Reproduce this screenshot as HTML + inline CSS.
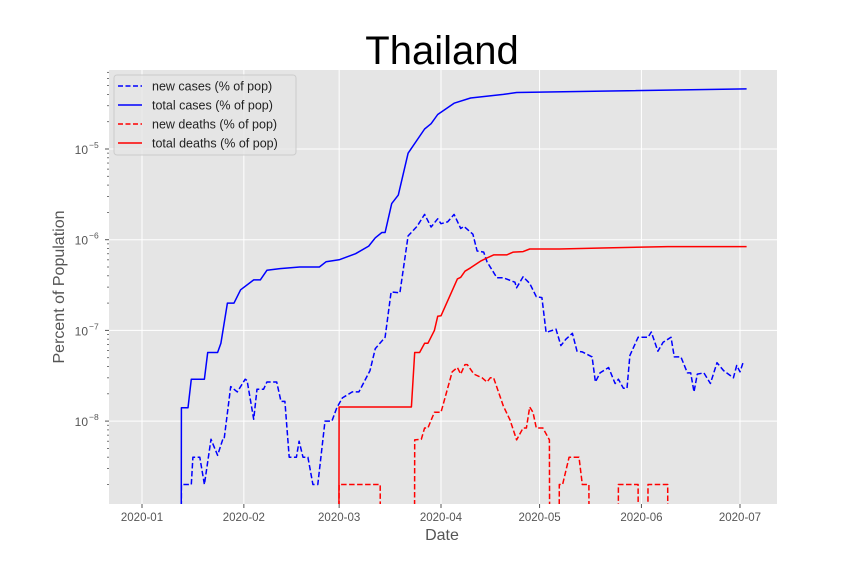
<!DOCTYPE html>
<html><head><meta charset="utf-8"><style>
body{margin:0;background:#fff;font-family:"Liberation Sans",sans-serif;}
svg text{font-family:"Liberation Sans",sans-serif;}
</style></head><body>
<svg id="chart" width="864" height="576" xmlns="http://www.w3.org/2000/svg">
<rect x="0" y="0" width="864" height="576" fill="#fff"/>
<rect x="109" y="70" width="668" height="434" fill="#e5e5e5"/>
<g id="grid"></g>
<g id="ticks"></g>
<defs><clipPath id="clip"><rect x="109" y="70" width="668" height="434"/></clipPath></defs>
<g id="series" clip-path="url(#clip)"></g>
<text x="442" y="64" font-size="40" text-anchor="middle" fill="#000">Thailand</text>
<text x="442" y="540" font-size="16" text-anchor="middle" fill="#555">Date</text>
<text x="64" y="287" font-size="16" text-anchor="middle" fill="#555" transform="rotate(-90 64 287)">Percent of Population</text>
<g>
<rect x="114" y="75" width="182" height="80" rx="3" fill="#e5e5e5" fill-opacity="0.8" stroke="#ccc" stroke-width="1"/>
<g><line x1="118" y1="86" x2="142" y2="86" stroke="#00f" stroke-width="1.5" stroke-dasharray="5,2.5"/><text x="152" y="90.5" font-size="12.5" fill="#222">new cases (% of pop)</text></g>
<g><line x1="118" y1="105" x2="142" y2="105" stroke="#00f" stroke-width="1.5"/><text x="152" y="109.5" font-size="12.5" fill="#222">total cases (% of pop)</text></g>
<g><line x1="118" y1="124" x2="142" y2="124" stroke="#f00" stroke-width="1.5" stroke-dasharray="5,2.5"/><text x="152" y="128.5" font-size="12.5" fill="#222">new deaths (% of pop)</text></g>
<g><line x1="118" y1="143" x2="142" y2="143" stroke="#f00" stroke-width="1.5"/><text x="152" y="147.5" font-size="12.5" fill="#222">total deaths (% of pop)</text></g>
</g>
</svg>
<script>
// day index: 0 = 2020-01-01
const xTickLabels = ["2020-01","2020-02","2020-03","2020-04","2020-05","2020-06","2020-07"];
const xTickDays = [0,31,60,91,121,152,182];
const yTickExps = [-8,-7,-6,-5];

const totalCasesDays = [11.9,12,14,15,19,20,23,24,26,28,30,34,36,38,42,48,54,56,60,65,69,71,73,74,76,78,81,86,88,90,95,100,110,114,140,184];
const totalCasesVals = [1e-10,1.4e-8,1.4e-8,2.9e-8,2.9e-8,5.7e-8,5.7e-8,7.2e-8,2e-7,2e-7,2.8e-7,3.6e-7,3.6e-7,4.6e-7,4.8e-7,5.0e-7,5.0e-7,5.7e-7,6.0e-7,7e-7,8.5e-7,1.05e-6,1.2e-6,1.2e-6,2.5e-6,3.1e-6,9e-6,1.66e-5,1.9e-5,2.4e-5,3.2e-5,3.65e-5,4.0e-5,4.2e-5,4.35e-5,4.6e-5];

const newCasesDays = [11.9,12,15,15.5,17.6,19,21,23,24.6,25,27,29,31.4,32,34,35,37,38,41,42.3,43.5,44.8,47,47.8,49,50.5,52,53.5,55.7,57.8,59.3,61,64,66,69.4,71,74,75.8,78.5,81,83.7,86,88,90,91,93,95,97,98,100.7,102,104,105,108,110,113.5,114,116,118,120,121.7,123,126,127.5,129,131,132.4,134,137,138,139.4,142,144,145,146.5,147.6,148.5,151,154,155,157,158.6,161,162,164,166,167,168,169,171,173,175,177,180,181,182,183];
const newCasesVals = [1e-10,2e-9,2e-9,4e-9,4e-9,2e-9,6.3e-9,4.2e-9,6.3e-9,6.3e-9,2.4e-8,2.1e-8,2.9e-8,2.8e-8,1.05e-8,2.25e-8,2.25e-8,2.7e-8,2.7e-8,1.65e-8,1.65e-8,4e-9,4e-9,6e-9,4e-9,4e-9,2e-9,2e-9,1e-8,1e-8,1.4e-8,1.8e-8,2.1e-8,2.1e-8,3.6e-8,6.3e-8,8.4e-8,2.65e-7,2.6e-7,1.1e-6,1.4e-6,1.9e-6,1.38e-6,1.7e-6,1.5e-6,1.57e-6,1.9e-6,1.33e-6,1.4e-6,1.15e-6,7.5e-7,7.3e-7,5.7e-7,3.8e-7,3.8e-7,3.4e-7,2.95e-7,3.9e-7,3.3e-7,2.35e-7,2.3e-7,9.5e-8,1.03e-7,6.8e-8,8e-8,9.3e-8,5.9e-8,5.8e-8,5.1e-8,2.7e-8,3.4e-8,3.9e-8,2.6e-8,2.9e-8,2.3e-8,2.3e-8,5.3e-8,8.4e-8,8.4e-8,9.6e-8,5.9e-8,7.4e-8,8.4e-8,5.1e-8,5.1e-8,3.4e-8,3.4e-8,2.1e-8,3.3e-8,3.4e-8,2.6e-8,4.4e-8,3.6e-8,3e-8,4.1e-8,3.5e-8,4.5e-8];

const newDeathsDays = [59.9,60,72.5,72.6,82.9,83,85,86,87,89,91,94.4,96,97,98.3,99,101,103.5,105,106,107,110,112,114,116,117,118,119,120,122,124,124.1,126.9,127,128,130,133,134,136,136.1,144.9,145,151,151.1,153.9,154,160,160.1];
const newDeathsVals = [1e-10,2e-9,2e-9,1e-10,1e-10,6.2e-9,6.3e-9,8.4e-9,8.4e-9,1.25e-8,1.25e-8,3.5e-8,3.9e-8,3.3e-8,4.2e-8,4.2e-8,3.3e-8,3e-8,2.7e-8,3e-8,3e-8,1.46e-8,1.03e-8,6.2e-9,8.4e-9,8.4e-9,1.43e-8,1.25e-8,8.4e-9,8.4e-9,6.2e-9,1e-10,1e-10,2e-9,2e-9,4e-9,4e-9,2e-9,2e-9,1e-10,1e-10,2e-9,2e-9,1e-10,1e-10,2e-9,2e-9,1e-10];

const totalDeathsDays = [59.9,60,82,83,84.5,86,87,89,90,91,96,97,98.3,100,103,105,107,111,113,116,118,127,140,160,184];
const totalDeathsVals = [1e-10,1.43e-8,1.43e-8,5.7e-8,5.7e-8,7.2e-8,7.2e-8,1e-7,1.43e-7,1.45e-7,3.7e-7,3.85e-7,4.5e-7,4.9e-7,5.8e-7,6.3e-7,6.8e-7,6.8e-7,7.3e-7,7.4e-7,7.9e-7,7.9e-7,8.1e-7,8.4e-7,8.4e-7];

const NS = "http://www.w3.org/2000/svg";
function xScale(d){ return 142 + d * 3.2857; }
function yScale(v){ return 149 - (Math.log10(v) + 5) * 90.7; }
function mk(tag, attrs, parent){
  const el = document.createElementNS(NS, tag);
  for (const k in attrs) el.setAttribute(k, attrs[k]);
  parent.appendChild(el);
  return el;
}
const grid = document.getElementById('grid');
const ticks = document.getElementById('ticks');
xTickDays.forEach((d,i)=>{
  const x = xScale(d);
  const gl = mk('line',{x1:x,y1:70,x2:x,y2:504,stroke:'#fff','stroke-width':1},grid);
  
  
  mk('line',{x1:x,y1:504,x2:x,y2:508,stroke:'#555','stroke-width':1},ticks);
  const t = mk('text',{x:x,y:521,'font-size':11.5,'text-anchor':'middle',fill:'#555'},ticks);
  t.textContent = xTickLabels[i];
  
  
});
yTickExps.forEach(e=>{
  const y = yScale(Math.pow(10,e));
  const gl = mk('line',{x1:109,y1:y,x2:777,y2:y,stroke:'#fff','stroke-width':1},grid);
  
  
  mk('line',{x1:105,y1:y,x2:109,y2:y,stroke:'#555','stroke-width':1},ticks);
  const t = mk('text',{x:88,y:y+5,'font-size':12,'text-anchor':'end',fill:'#555'},ticks);
  t.textContent = '10';
  
  
  const s = mk('text',{x:89,y:y-1,'font-size':8.5,'text-anchor':'start',fill:'#555'},ticks);
  s.textContent = '\u2212' + (-e);
});
for (let e=-9; e<=-5; e++){
  for (let m=2; m<=9; m++){
    const y = yScale(m*Math.pow(10,e));
    if (y<70 || y>504) continue;
    mk('line',{x1:107,y1:y,x2:109,y2:y,stroke:'#555','stroke-width':0.8},ticks);
  }
}
const series = document.getElementById('series');
function drawLine(days, vals, color, dashed, name){
  const pts = days.map((d,i)=> xScale(d).toFixed(1)+','+yScale(vals[i]).toFixed(1)).join(' ');
  const attrs = {points:pts, fill:'none', stroke:color, 'stroke-width':1.5, 'stroke-linejoin':'round'};
  if (dashed) attrs['stroke-dasharray'] = '5.5,2.5';
  const p = mk('polyline', attrs, series);
  
  
}
drawLine(totalCasesDays, totalCasesVals, '#0000ff', false, 'total-cases-line');
drawLine(newCasesDays, newCasesVals, '#0000ff', true, 'new-cases-line');
drawLine(newDeathsDays, newDeathsVals, '#ff0000', true, 'new-deaths-line');
drawLine(totalDeathsDays, totalDeathsVals, '#ff0000', false, 'total-deaths-line');
</script>
</body></html>
